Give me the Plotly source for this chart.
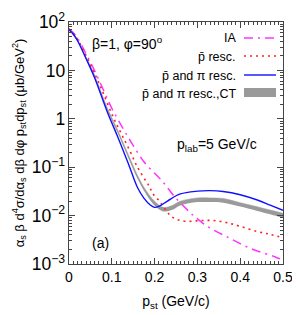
import plotly.graph_objects as go

# ---------------- data ----------------
ia_x = [0, 0.01, 0.02, 0.04, 0.06, 0.08, 0.1, 0.125, 0.149, 0.175, 0.2, 0.215, 0.226, 0.246, 0.277, 0.292, 0.323, 0.37, 0.424, 0.482, 0.5]
ia_y = [72, 60, 46, 22, 9.8, 4.0, 1.65, 0.66, 0.29, 0.13, 0.075, 0.055, 0.042, 0.025, 0.013, 0.0098, 0.006, 0.0036, 0.0021, 0.0014, 0.0012]

pr_x = [0, 0.01, 0.02, 0.04, 0.064, 0.08, 0.102, 0.12, 0.141, 0.16, 0.18, 0.188, 0.195, 0.211, 0.226, 0.238, 0.253, 0.277, 0.308, 0.339, 0.37, 0.4, 0.44, 0.47, 0.5]
pr_y = [72, 58, 44, 20, 7.2, 3.4, 1.15, 0.54, 0.23, 0.1, 0.051, 0.04, 0.029, 0.02, 0.013, 0.0098, 0.0083, 0.0076, 0.0079, 0.0079, 0.0071, 0.006, 0.0047, 0.0041, 0.0035]

bl_x = [0, 0.01, 0.02, 0.04, 0.06, 0.09, 0.114, 0.14, 0.16, 0.175, 0.19, 0.2, 0.21, 0.23, 0.26, 0.3, 0.33, 0.36, 0.4, 0.44, 0.47, 0.5]
bl_y = [69, 56, 41, 17.4, 7.0, 1.35, 0.42, 0.11, 0.038, 0.023, 0.0165, 0.0148, 0.0155, 0.02, 0.028, 0.032, 0.0328, 0.0315, 0.027, 0.021, 0.0165, 0.0129]

ct_x = [0, 0.01, 0.02, 0.04, 0.06, 0.09, 0.114, 0.14, 0.16, 0.18, 0.2, 0.22, 0.24, 0.26, 0.3, 0.33, 0.36, 0.4, 0.44, 0.47, 0.5]
ct_lo = [66, 54, 39, 16.8, 7.1, 1.45, 0.5, 0.145, 0.058, 0.028, 0.0162, 0.0122, 0.013, 0.0162, 0.019, 0.019, 0.0184, 0.0154, 0.0125, 0.0107, 0.0090]
ct_hi = [72, 58, 43, 18.6, 7.9, 1.65, 0.58, 0.17, 0.068, 0.033, 0.0198, 0.0148, 0.016, 0.0198, 0.0232, 0.0232, 0.0226, 0.0185, 0.0152, 0.013, 0.0112]

legend_names = ["IA", "p\u0304 resc.", "p\u0304 and \u03c0 resc.", "p\u0304 and \u03c0 resc.,CT"]
x_ticks = [0, 0.1, 0.2, 0.3, 0.4, 0.5]
x_ticktext = ["0", "0.1", "0.2", "0.3", "0.4", "0.5"]

FONT = "Liberation Sans, Arial, sans-serif"
MAG = "#ff33ff"
RED = "#ff2020"
BLUE = "#1010ff"
GRAY = "#9a9a9a"

fig = go.Figure()

# CT band
fig.add_trace(go.Scatter(x=ct_x, y=ct_lo, mode="lines", line=dict(width=0, color=GRAY, shape="spline"),
                         showlegend=False, hoverinfo="skip"))
fig.add_trace(go.Scatter(x=ct_x, y=ct_hi, mode="lines", line=dict(width=0.5, color=GRAY, shape="spline"),
                         fill="tonexty", fillcolor=GRAY, showlegend=False, hoverinfo="skip"))

fig.add_trace(go.Scatter(x=ia_x, y=ia_y, mode="lines",
                         line=dict(color=MAG, width=1.5, dash="9px,5px,2px,5px", shape="spline"), showlegend=False))
fig.add_trace(go.Scatter(x=pr_x, y=pr_y, mode="lines",
                         line=dict(color=RED, width=1.6, dash="2px,4px", shape="spline"), showlegend=False))
fig.add_trace(go.Scatter(x=bl_x, y=bl_y, mode="lines",
                         line=dict(color=BLUE, width=1.4, shape="spline"), showlegend=False))

# manual legend (text right, sample on the right)
L, R, T, B = 61, 275, 14, 256
def px(xp):
    return (xp - L) / (R - L)
def py(yp):
    return (B - yp) / (B - T)

leg_y = [30, 49, 68, 86]
for name, yy in zip(legend_names, leg_y):
    fig.add_annotation(x=px(230), y=py(yy), xref="paper", yref="paper", text=name, showarrow=False,
                       xanchor="right", yanchor="middle", font=dict(family=FONT, size=12.5, color="black"))
fig.add_shape(type="line", xref="paper", yref="paper", x0=px(236), x1=px(268), y0=py(30), y1=py(30),
              line=dict(color=MAG, width=1.5, dash="9px,5px,2px,5px"))
fig.add_shape(type="line", xref="paper", yref="paper", x0=px(236), x1=px(268), y0=py(48), y1=py(48),
              line=dict(color=RED, width=1.6, dash="2px,4px"))
fig.add_shape(type="line", xref="paper", yref="paper", x0=px(236), x1=px(268), y0=py(67), y1=py(67),
              line=dict(color=BLUE, width=1.4))
fig.add_shape(type="rect", xref="paper", yref="paper", x0=px(236), x1=px(268), y0=py(89), y1=py(80),
              line=dict(width=0), fillcolor=GRAY)

fig.add_annotation(x=px(82), y=py(35), xref="paper", yref="paper", text="\u03b2=1, \u03c6=90<sup>o</sup>",
                   showarrow=False, xanchor="left", yanchor="middle", font=dict(family=FONT, size=14, color="black"))
fig.add_annotation(x=px(167), y=py(137), xref="paper", yref="paper", text="p<sub>lab</sub>=5 GeV/c",
                   showarrow=False, xanchor="left", yanchor="middle", font=dict(family=FONT, size=14, color="black"))
fig.add_annotation(x=px(82), y=py(235), xref="paper", yref="paper", text="(a)",
                   showarrow=False, xanchor="left", yanchor="middle", font=dict(family=FONT, size=14, color="black"))

axis_common = dict(showline=True, linecolor="#444", linewidth=1, mirror="allticks", ticks="inside",
                   tickcolor="#444", showgrid=False, zeroline=False, automargin=False,
                   tickfont=dict(family=FONT, size=14, color="black"))

fig.update_xaxes(range=[0, 0.5], tickvals=x_ticks, ticktext=x_ticktext, ticklen=6,
                 minor=dict(dtick=0.01, ticks="inside", ticklen=3, tickcolor="#444", showgrid=False),
                 title=dict(text="p<sub>st</sub> (GeV/c)", font=dict(family=FONT, size=14, color="black"), standoff=12),
                 **axis_common)
fig.update_yaxes(type="log", range=[-3, 2], dtick=1, exponentformat="power", ticklen=6,
                 minor=dict(dtick="D1", ticks="inside", ticklen=3, tickcolor="#444", showgrid=False),
                 title=dict(text="\u03b1<sub>s</sub> \u03b2 d<sup>4</sup>\u03c3/d\u03b1<sub>s</sub> d\u03b2 d\u03c6 p<sub>st</sub>dp<sub>st</sub> (\u03bcb/GeV<sup>2</sup>)",
                            font=dict(family=FONT, size=13, color="black"), standoff=4),
                 **axis_common)

fig.update_layout(width=300, height=315, margin=dict(l=61, r=25, t=14, b=59),
                  plot_bgcolor="white", paper_bgcolor="white", showlegend=False,
                  font=dict(family=FONT))

fig.write_html("out.html")
